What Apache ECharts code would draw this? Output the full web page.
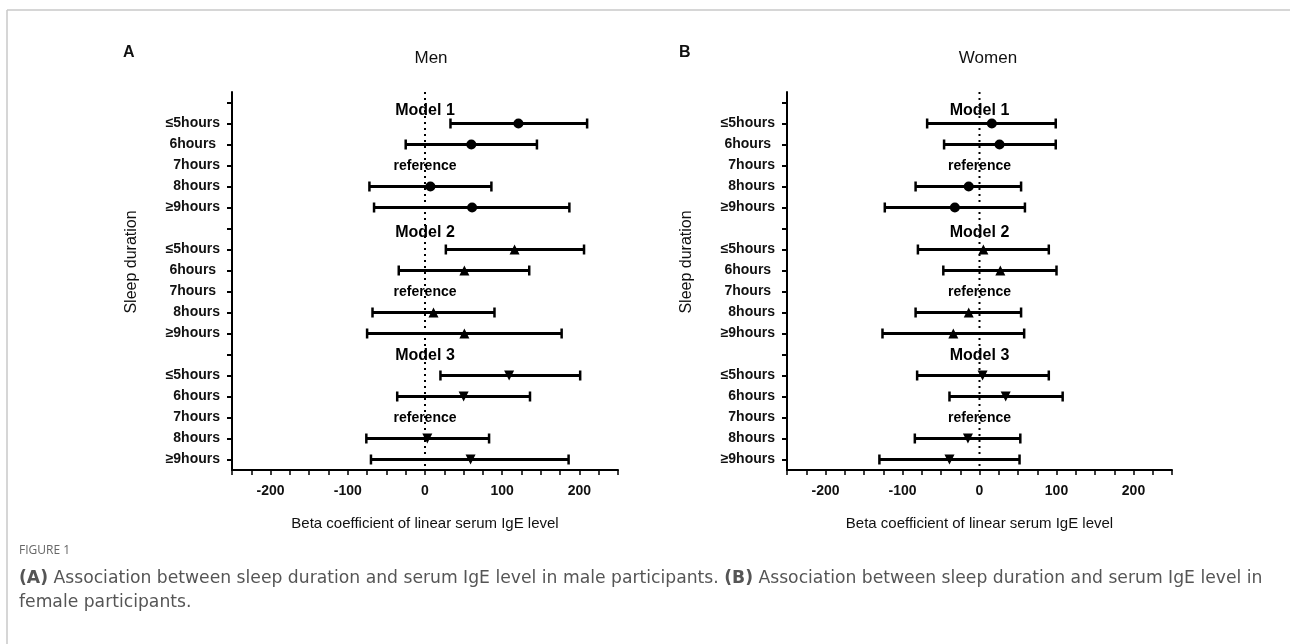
<!DOCTYPE html>
<html>
<head>
<meta charset="utf-8">
<script src="https://cdn.jsdelivr.net/npm/echarts@6/dist/echarts.min.js"></script>
<style>
html,body{margin:0;padding:0;background:#fff;}
#chart{width:1290px;height:644px;}
</style>
</head>
<body>
<div id="chart"></div>
<script>
// ---- data ----
const rowLabels = ['', '≤5hours', '6hours ', '7hours', '8hours', '≥9hours',
                   '', '≤5hours', '6hours ', '7hours ', '8hours', '≥9hours',
                   '', '≤5hours', '6hours', '7hours', '8hours', '≥9hours'];
const modelNames = ['Model 1', 'Model 2', 'Model 3'];
const refLabel = 'reference';
// [lower, estimate, upper] for ≤5, 6, 7 (reference), 8, ≥9 hours
const menModel1 = [[33, 121, 210], [-25, 60, 145], null, [-72, 7, 86], [-66, 61, 187]];
const menModel2 = [[27, 116, 206], [-34, 51, 135], null, [-68, 11, 90], [-75, 51, 177]];
const menModel3 = [[20, 109, 201], [-36, 50, 136], null, [-76, 3, 83], [-70, 59, 186]];
const womenModel1 = [[-68, 16, 99], [-46, 26, 99], null, [-83, -14, 54], [-123, -32, 59]];
const womenModel2 = [[-80, 5, 90], [-47, 27, 100], null, [-83, -14, 54], [-126, -34, 58]];
const womenModel3 = [[-81, 4, 90], [-39, 34, 108], null, [-84, -15, 53], [-130, -39, 52]];
const xTicks = [-200, -100, 0, 100, 200];
const xMin = -250, xMax = 250;
const refValue = 0;
const panelTitles = ['Men', 'Women'];
const panelLetters = ['A', 'B'];
const xAxisName = 'Beta coefficient of linear serum IgE level';
const yAxisName = 'Sleep duration';

// ---- build ----
const FONT = 'Liberation Sans, Arial, sans-serif';
const symbols = ['circle', 'triangle', 'triangle'];
const symbolRot = [0, 0, 180];
const symbolSizes = [10, 10, 10];
const modelLabelOffsets = [8, 4, 1];

function buildPanel(models, gi) {
  const bars = [], pts = [], texts = [];
  models.forEach((m, mi) => {
    texts.push({ value: [refValue, mi * 6], name: modelNames[mi], kind: 'model', off: modelLabelOffsets[mi] });
    m.forEach((v, g) => {
      const row = mi * 6 + 1 + g;
      if (v === null) {
        texts.push({ value: [refValue, row], name: refLabel, kind: 'ref', off: 1 });
        return;
      }
      bars.push([v[0], v[2], row]);
      pts.push({ value: [v[1], row], symbol: symbols[mi], symbolRotate: symbolRot[mi], symbolSize: symbolSizes[mi] });
    });
  });
  return [
    {
      // dotted reference line at x = 0
      type: 'custom', xAxisIndex: gi, yAxisIndex: gi, silent: true,
      data: [[refValue, 0]], encode: { x: 0, y: 1 }, z: 1,
      renderItem: function (params, api) {
        const cs = params.coordSys;
        const p = api.coord([api.value(0), api.value(1)]);
        return {
          type: 'line',
          shape: { x1: p[0], y1: cs.y, x2: p[0], y2: cs.y + cs.height },
          style: { stroke: '#000', lineWidth: 2, lineDash: [2, 4] }
        };
      }
    },
    {
      type: 'custom', xAxisIndex: gi, yAxisIndex: gi,
      data: bars, encode: { x: [0, 1], y: 2 },
      renderItem: function (params, api) {
        const a = api.coord([api.value(0), api.value(2)]);
        const b = api.coord([api.value(1), api.value(2)]);
        const h = 5;
        return {
          type: 'group', children: [
            { type: 'line', shape: { x1: a[0], y1: a[1], x2: b[0], y2: b[1] }, style: { stroke: '#000', lineWidth: 3 } },
            { type: 'line', shape: { x1: a[0], y1: a[1] - h, x2: a[0], y2: a[1] + h }, style: { stroke: '#000', lineWidth: 2.5 } },
            { type: 'line', shape: { x1: b[0], y1: b[1] - h, x2: b[0], y2: b[1] + h }, style: { stroke: '#000', lineWidth: 2.5 } }
          ]
        };
      },
      z: 3
    },
    {
      type: 'scatter', xAxisIndex: gi, yAxisIndex: gi, data: pts,
      itemStyle: { color: '#000', opacity: 1 }, z: 5
    },
    {
      type: 'scatter', xAxisIndex: gi, yAxisIndex: gi, symbolSize: 0, z: 6,
      itemStyle: { color: '#fff', opacity: 1 },
      data: texts.map(t => ({
        value: t.value, name: t.name,
        label: {
          show: true, position: 'inside', formatter: t.name,
          offset: [0, t.off],
          fontFamily: FONT, fontWeight: 'bold',
          fontSize: t.kind === 'model' ? 16 : 14,
          color: '#000', opacity: 1
        }
      }))
    }
  ];
}

const grids = [
  { left: 232, width: 386, top: 92, height: 378 },
  { left: 787, width: 385, top: 92, height: 378 }
];

function xAxisCfg(gi) {
  return {
    type: 'value', gridIndex: gi, min: xMin, max: xMax, interval: 25,
    name: xAxisName, nameLocation: 'middle', nameGap: 46,
    nameTextStyle: { fontFamily: FONT, fontSize: 15, color: '#111' },
    axisLine: { show: true, onZero: false, lineStyle: { color: '#000', width: 2 } },
    axisTick: { show: true, length: 5, lineStyle: { color: '#000', width: 1.5 } },
    splitLine: { show: false },
    axisLabel: {
      margin: 14, color: '#111', fontWeight: 'bold', fontSize: 14, fontFamily: FONT,
      formatter: v => (xTicks.indexOf(v) >= 0 ? String(v) : '')
    }
  };
}
function yAxisCfg(gi) {
  return {
    type: 'category', gridIndex: gi, inverse: true, data: rowLabels,
    name: yAxisName, nameLocation: 'middle', nameGap: 92, nameRotate: 90,
    nameTextStyle: { fontFamily: FONT, fontSize: 16, color: '#111', padding: [0, 0, 0, 38] },
    axisLine: { show: true, onZero: false, lineStyle: { color: '#000', width: 2 } },
    axisTick: { show: true, alignWithLabel: true, length: 5, interval: 0, lineStyle: { color: '#000', width: 2 } },
    axisLabel: { interval: 0, margin: 12, color: '#111', fontWeight: 'bold', fontSize: 14, fontFamily: FONT }
  };
}

const series = [].concat(
  buildPanel([menModel1, menModel2, menModel3], 0),
  buildPanel([womenModel1, womenModel2, womenModel3], 1)
);

const CAP = 'DejaVu Sans, sans-serif';
const chart = echarts.init(document.getElementById('chart'), null, { renderer: 'canvas' });
chart.setOption({
  animation: false,
  backgroundColor: '#fff',
  grid: grids,
  xAxis: [xAxisCfg(0), xAxisCfg(1)],
  yAxis: [yAxisCfg(0), yAxisCfg(1)],
  title: [
    { text: panelTitles[0], left: 426, top: 45, textAlign: 'center',
      textStyle: { fontFamily: FONT, fontSize: 17, fontWeight: 'normal', color: '#111' } },
    { text: panelTitles[1], left: 983, top: 45, textAlign: 'center',
      textStyle: { fontFamily: FONT, fontSize: 17, fontWeight: 'normal', color: '#111' } },
    { text: panelLetters[0], left: 118, top: 40,
      textStyle: { fontFamily: FONT, fontSize: 16, fontWeight: 'bold', color: '#111' } },
    { text: panelLetters[1], left: 674, top: 40,
      textStyle: { fontFamily: FONT, fontSize: 16, fontWeight: 'bold', color: '#111' } },
    { text: 'FIGURE 1', left: 14, top: 540,
      textStyle: { fontFamily: 'Open Sans, sans-serif', fontSize: 12, fontWeight: 'normal', color: '#666' } },
    { text: '{b|(A)} Association between sleep duration and serum IgE level in male participants. {b|(B)} Association between sleep duration and serum IgE level in\nfemale participants.',
      left: 14, top: 562,
      textStyle: {
        fontFamily: CAP, fontSize: 17.2, fontWeight: 'normal', color: '#555', lineHeight: 24,
        rich: { b: { fontFamily: CAP, fontSize: 17.2, fontWeight: 'bold', color: '#555', lineHeight: 24 } }
      } }
  ],
  graphic: [
    { type: 'line', shape: { x1: 7, y1: 10, x2: 1290, y2: 10 }, style: { stroke: '#c8c8c8', lineWidth: 1.5 } },
    { type: 'line', shape: { x1: 7, y1: 10, x2: 7, y2: 644 }, style: { stroke: '#c8c8c8', lineWidth: 1.5 } }
  ],
  series: series
});
</script>
</body>
</html>
